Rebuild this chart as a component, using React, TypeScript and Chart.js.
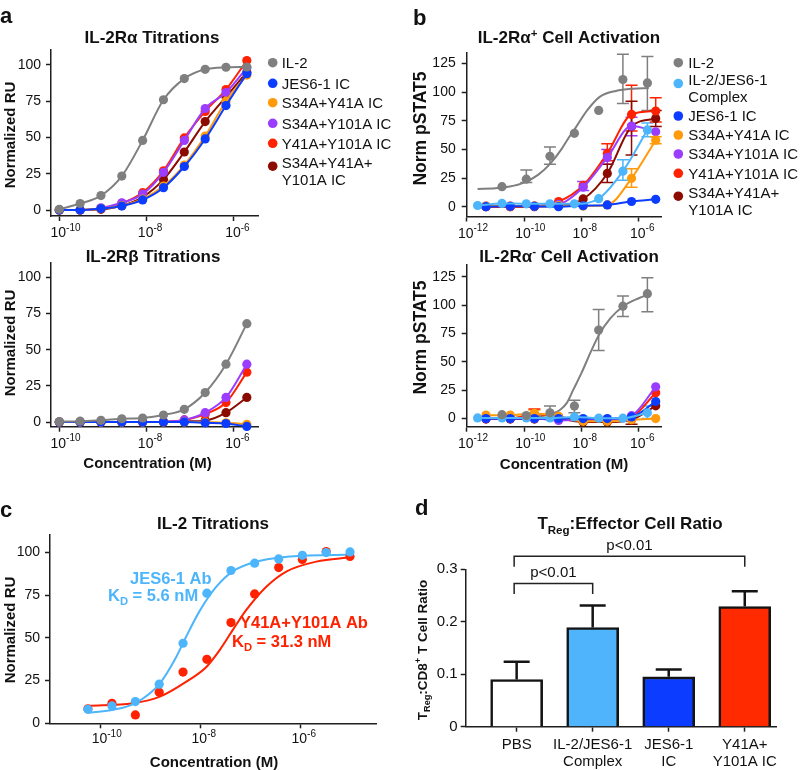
import React, { useEffect, useRef } from 'react';
import { Chart, registerables } from 'chart.js';

Chart.register(...registerables);

// ---------------- data ----------------
// Panel a: SPR titrations (3-fold dilutions)
const aConc = [1e-10, 3e-10, 9e-10, 2.7e-9, 8.1e-9, 2.43e-8, 7.29e-8, 2.19e-7, 6.56e-7, 1.97e-6];
const aRaIL2 = [0.5, 4.5, 10, 23.4, 48, 76, 90.6, 97, 98.4, 98.6];
const aRaJES = [0, 0, 1, 2.8, 7, 15.4, 30, 49, 72, 94];
const aRaS34Y41 = [0, 0, 1, 3, 7.5, 16.5, 31, 51, 75, 93];
const aRaS34Y101 = [0, 0, 1.5, 5, 11, 26, 48, 70, 81, 98];
const aRaY41Y101 = [0, 0, 1, 4.6, 12, 27, 49.7, 68, 83, 103];
const aRaTriple = [0, 0, 0.5, 3, 9, 21, 40, 61, 78, 95];
const aRbIL2 = [0.3, 0.6, 1.2, 2.3, 2.8, 4.9, 8.8, 20.4, 40, 68];
const aRbJES = [0, 0, 0, 0, 0, 0, 0, -0.5, -1, -3];
const aRbS34Y41 = [0, 0, 0, 0, 0, 0, 0, 0, -0.5, -1.5];
const aRbS34Y101 = [0, 0, 0, 0, 0, 0.3, 1.5, 6.5, 17, 40];
const aRbY41Y101 = [0, 0, 0, 0, 0, 0.3, 1.5, 5.5, 13.5, 34.5];
const aRbTriple = [0, 0, 0, 0, 0, 0, 0.5, 1, 6.5, 17];
const aLegend = ['IL-2', 'JES6-1 IC', 'S34A+Y41A IC', 'S34A+Y101A IC', 'Y41A+Y101A IC', 'S34A+Y41A+\nY101A IC'];
const aTickExps = [-10, -8, -6];

// Panel b: pSTAT5 cell activation
const bConcIC = [4.7e-12, 3.3e-11, 2.3e-10, 1.6e-9, 1.15e-8, 8.0e-8, 5.6e-7, 3.9e-6];
const bConcIL2 = [2.4e-12, 1.7e-11, 1.2e-10, 8.0e-10, 5.7e-9, 4.0e-8, 2.8e-7, 2.0e-6];
const bPosIL2 = [null, 17.4, 24, 44, 64, 84, 111, 108];
const bPosCx = [1, 2.8, 2.5, 2.5, 2.5, 7, 31, 67];
const bPosJES = [0, 0.3, 0.3, 0, 0.8, 1.5, 4.5, 6.4];
const bPosS34Y41 = [0.5, 0.5, 0.5, 1, 0.5, 1.5, 24.7, 58];
const bPosS34Y101 = [0.5, 0.5, 0.5, 2, 17, 43, 70.3, 65.4];
const bPosY41Y101 = [0, 0, 0.5, 4.4, 18.5, 46.5, 80.5, 83.5];
const bPosTriple = [0, 0, 0, 1, 6.7, 29, 70, 77];
const bPosIL2FitExp = [-11.62, -11, -10.5, -10, -9.5, -9.07, -8.7, -8.5, -8.2, -7.8, -7.35, -6.8, -6.2, -5.65];
const bPosIL2FitVal = [15.5, 16, 17.5, 21, 28, 38, 50, 58, 69, 84, 96, 101, 103, 103.5];
const bPosErrIL2 = [[2, 21, 32], [3, 37, 52], [6, 90, 133], [7, 84, 131]];
const bPosErrCx = [[6, 23, 41], [7, 61, 73]];
const bPosErrS34Y41 = [[6, 17, 33], [7, 55, 61]];
const bPosErrS34Y101 = [[4, 14, 22], [5, 37, 50], [6, 62, 78]];
const bPosErrY41Y101 = [[5, 40, 55], [6, 66, 106], [7, 74, 95]];
const bPosErrTriple = [[5, 21, 37], [6, 45, 92], [7, 70, 84]];

const bNegIL2 = [null, 3.4, 2.6, 5, 11, 78, 99, 110];
const bNegCx = [0.5, 0.5, 0.5, 0.5, 1.4, 0.3, 0.3, 5];
const bNegJES = [0, 0, 0, 0, 0, 0, 1.4, 15];
const bNegS34Y41 = [3, 3, 4.5, 2, -2.5, -2.5, -1, 0];
const bNegS34Y101 = [0, 0, 0, -1.7, -1, -1, 2.5, 27.9];
const bNegY41Y101 = [0, 0, 4, 1.5, -2, -1, 1.5, 22.7];
const bNegTriple = [-0.5, -0.5, -0.5, -0.5, -3, -3, -1, 11.2];
const bNegIL2FitExp = [-11.62, -10, -9.3, -9.0, -8.75, -8.5, -8.29, -8.0, -7.65, -7.38, -7.0, -6.54, -6.0, -5.68];
const bNegIL2FitVal = [0.5, 1, 2.5, 4.5, 7.5, 14, 25, 40, 60, 74, 88, 99, 106, 109];
const bNegErrIL2 = [[3, 0, 11], [4, 5, 16], [5, 60, 96], [6, 90, 108], [7, 94, 124]];
const bNegErrCx = [[7, 0, 11]];
const bNegErrY41Y101 = [[2, 0.5, 8.3]];
const bNegErrS34Y41 = [[2, 1.5, 7.5]];
const bNegErrTriple = [[6, -5, 1]];
const bLegend = ['IL-2', 'IL-2/JES6-1\nComplex', 'JES6-1 IC', 'S34A+Y41A IC', 'S34A+Y101A IC', 'Y41A+Y101A IC', 'S34A+Y41A+\nY101A IC'];
const bTickExps = [-12, -10, -8, -6];

// Panel c: IL-2 titrations on antibodies
const cConc = [5.6e-11, 1.7e-10, 5.0e-10, 1.5e-9, 4.5e-9, 1.35e-8, 4.1e-8, 1.22e-7, 3.7e-7, 1.1e-6, 3.3e-6, 9.9e-6];
const cJES = [8.2, 10.2, 12.7, 22.9, 46.9, 76.2, 89.5, 93.8, 96.3, 98.4, 100, 100.4];
const cY41Y101 = [8.5, 11.7, 4.9, 18.2, 30, 37.5, 59, 75.8, 91.2, 96, 100.6, 97.7];
const cJESFitExp = [-10.25, -9.77, -9.29, -8.81, -8.48, -8.28, -8.01, -7.68, -7.35, -6.88, -6.35, -5.35, -4.98];
const cJESFitVal = [6.2, 7.8, 12, 23.4, 39, 51, 66, 80, 89, 94.7, 97.3, 98.6, 98.8];
const cY41FitExp = [-10.25, -9.35, -8.81, -8.28, -7.88, -7.61, -7.35, -7.08, -6.68, -6.28, -5.68, -4.98];
const cY41FitVal = [10.2, 11.7, 15.6, 24.4, 33, 43, 54.7, 66.4, 80, 88.9, 94.7, 97.3];
const cTickExps = [-10, -8, -6];

// Panel d: Treg:effector ratio
const dGroups = [['PBS'], ['IL-2/JES6-1', 'Complex'], ['JES6-1', 'IC'], ['Y41A+', 'Y101A IC']];
const dMean = [0.09, 0.189, 0.095, 0.229];
const dUpper = [0.124, 0.231, 0.109, 0.258];
const dSig = [[0, 1, 'p<0.01'], [0, 3, 'p<0.01']];

// ---------------- styles ----------------
const FONT = '"Liberation Sans", Arial, Helvetica, sans-serif';
const INK = '#111111';
const AXIS = '#1e1e1e';
const W = 800;
const H = 770;
const GRAY = '#7f7f7f';
const BLUE = '#0b3cff';
const ORANGE = '#ff9a0a';
const PURPLE = '#9b3dff';
const RED = '#ff2200';
const DARKRED = '#8c0b00';
const LIGHTBLUE = '#4db5fb';
const aColors = [GRAY, BLUE, ORANGE, PURPLE, RED, DARKRED];
const bColors = [GRAY, LIGHTBLUE, BLUE, ORANGE, PURPLE, RED, DARKRED];
const dColors = ['#ffffff', '#4fb4fc', '#0b3cff', '#ff2a00'];

type Seg = [string, string?];

const fnt = (size: number, bold = false) => `${bold ? 'bold ' : ''}${size}px ${FONT}`;

function drawSegs(ctx: any, input: string | Seg[], x: number, yMid: number, size: number, o: any = {}) {
  const segs: Seg[] = typeof input === 'string' ? [[input]] : input;
  const bold = !!o.bold;
  const parts = segs.map(([t, k]) => {
    const s = k ? size * 0.68 : size;
    ctx.font = fnt(s, bold);
    return { t, k, s, w: ctx.measureText(t).width };
  });
  const total = parts.reduce((a, p) => a + p.w, 0);
  let cx = o.align === 'center' ? x - total / 2 : o.align === 'right' ? x - total : x;
  const base = yMid + size * 0.36;
  ctx.fillStyle = o.color ?? INK;
  ctx.textAlign = 'left';
  ctx.textBaseline = 'alphabetic';
  for (const p of parts) {
    ctx.font = fnt(p.s, bold);
    const dy = p.k === 'sup' ? -size * 0.4 : p.k === 'sub' ? size * 0.24 : 0;
    ctx.fillText(p.t, cx, base + dy);
    cx += p.w;
  }
}

function drawSegsRot(ctx: any, input: string | Seg[], cx: number, cy: number, size: number, o: any = {}) {
  ctx.save();
  ctx.translate(cx, cy);
  ctx.rotate(-Math.PI / 2);
  drawSegs(ctx, input, 0, 0, size, { ...o, align: 'center' });
  ctx.restore();
}

function letter(ctx: any, ch: string, x: number, baseline: number) {
  ctx.font = fnt(22, true);
  ctx.fillStyle = INK;
  ctx.textAlign = 'left';
  ctx.textBaseline = 'alphabetic';
  ctx.fillText(ch, x, baseline);
}

function drawLegend(ctx: any, labels: string[], colors: string[], mx: number, tx: number, rows: number[]) {
  labels.forEach((lab, i) => {
    const lines = lab.split('\n');
    const y = rows[i];
    ctx.beginPath();
    ctx.fillStyle = colors[i];
    ctx.arc(mx, y + (lines.length > 1 ? 3.5 : 0), 4.8, 0, Math.PI * 2);
    ctx.fill();
    lines.forEach((ln, j) => drawSegs(ctx, ln, tx, y + j * 16.5, 15));
  });
}

function logTickLabels(ctx: any, chart: any, exps: number[], dy = 16) {
  const xs = chart.scales.x;
  const yb = chart.chartArea.bottom + dy;
  ctx.font = fnt(14);
  const w10 = ctx.measureText('10').width;
  for (const e of exps) {
    const px = xs.getPixelForValue(Math.pow(10, e));
    drawSegs(ctx, '10', px - w10 / 2 - 1, yb, 14);
    drawSegs(ctx, String(e), px + w10 / 2 - 1, yb - 5, 10);
  }
}

function overlay(id: string, draw: (chart: any, ctx: any) => void) {
  return {
    id,
    afterDraw(chart: any) {
      const ctx = chart.ctx;
      ctx.save();
      draw(chart, ctx);
      ctx.restore();
    },
  };
}

function errorBars(id: string, groups: { xs: number[]; items: number[][]; color: string }[]) {
  return {
    id,
    beforeDatasetsDraw(chart: any) {
      const { ctx } = chart;
      const x = chart.scales.x;
      const y = chart.scales.y;
      ctx.save();
      ctx.lineWidth = 1.5;
      for (const g of groups) {
        ctx.strokeStyle = g.color;
        for (const [i, lo, hi] of g.items) {
          const px = x.getPixelForValue(g.xs[i]);
          const y0 = y.getPixelForValue(lo);
          const y1 = y.getPixelForValue(hi);
          ctx.beginPath();
          ctx.moveTo(px, y0);
          ctx.lineTo(px, y1);
          ctx.moveTo(px - 6, y0);
          ctx.lineTo(px + 6, y0);
          ctx.moveTo(px - 6, y1);
          ctx.lineTo(px + 6, y1);
          ctx.stroke();
        }
      }
      ctx.restore();
    },
  };
}

const gridOpts = { display: true, drawOnChartArea: false, drawTicks: true, tickLength: 5, tickWidth: 1.5, tickColor: AXIS };
const borderOpts = { display: true, color: AXIS, width: 1.5 };
const YW = 45;
const XH = 10;

function yLin(min: number, max: number, ticks: number[], o: any = {}) {
  return {
    type: 'linear',
    min,
    max,
    afterBuildTicks: (s: any) => {
      s.ticks = ticks.map((v) => ({ value: v }));
    },
    afterFit: (s: any) => {
      s.width = YW;
    },
    grid: gridOpts,
    border: borderOpts,
    ticks: {
      color: INK,
      font: { family: FONT, size: o.size ?? 14 },
      padding: o.pad ?? 5,
      autoSkip: false,
      callback: o.fmt ?? ((v: any) => String(v)),
    },
  };
}

function xLog(minE: number, maxE: number, tickE: number[]) {
  return {
    type: 'logarithmic',
    min: Math.pow(10, minE),
    max: Math.pow(10, maxE),
    afterBuildTicks: (s: any) => {
      s.ticks = tickE.map((e) => ({ value: Math.pow(10, e) }));
    },
    afterFit: (s: any) => {
      s.height = XH;
    },
    grid: gridOpts,
    border: borderOpts,
    ticks: { display: false },
  };
}

function frame(l: number, t: number, r: number, b: number, hx = XH) {
  return { padding: { left: l - YW, top: t, right: W - r, bottom: H - b - hx } };
}

function baseOptions(layout: any, scales: any) {
  return {
    responsive: false,
    animation: false,
    devicePixelRatio: 1,
    events: [],
    layout,
    scales,
    plugins: { legend: { display: false }, tooltip: { enabled: false }, title: { display: false } },
  };
}

function series(xs: number[], ys: (number | null)[], color: string, line = true) {
  return {
    data: xs.map((x, i) => ({ x, y: ys[i] })),
    showLine: line,
    borderColor: color,
    backgroundColor: color,
    pointBackgroundColor: color,
    pointBorderColor: color,
    pointBorderWidth: 0,
    pointRadius: 4.6,
    borderWidth: 2,
    cubicInterpolationMode: 'monotone',
    spanGaps: true,
    clip: false,
    order: 0,
  };
}

function fitCurve(exps: number[], vals: number[], color: string) {
  return {
    data: exps.map((e, i) => ({ x: Math.pow(10, e), y: vals[i] })),
    showLine: true,
    borderColor: color,
    backgroundColor: color,
    pointRadius: 0,
    borderWidth: 2,
    cubicInterpolationMode: 'monotone',
    clip: false,
    order: 10,
  };
}

const pct = [0, 25, 50, 75, 100];
const pct125 = [0, 25, 50, 75, 100, 125];

// ---------------- charts ----------------
const makeATop = () => ({
  type: 'scatter',
  data: {
    datasets: [aRaIL2, aRaJES, aRaS34Y41, aRaS34Y101, aRaY41Y101, aRaTriple].map((ys, i) => series(aConc, ys, aColors[i])),
  },
  options: baseOptions(frame(51, 50, 258, 216), { x: xLog(-10.19, -5.45, aTickExps), y: yLin(-4.1, 110.3, pct) }),
  plugins: [
    overlay('aTop', (chart, ctx) => {
      letter(ctx, 'a', 0, 23);
      drawSegs(ctx, 'IL-2Rα Titrations', 152, 37, 17, { bold: true, align: 'center' });
      drawSegsRot(ctx, 'Normalized RU', 9.5, 135, 15, { bold: true });
      drawLegend(ctx, aLegend, aColors, 272.7, 281.7, [62.7, 83.3, 102.7, 123.3, 143.3, 162.7]);
      logTickLabels(ctx, chart, aTickExps);
    }),
  ],
});

const makeABottom = () => ({
  type: 'scatter',
  data: {
    datasets: [aRbIL2, aRbJES, aRbS34Y41, aRbS34Y101, aRbY41Y101, aRbTriple].map((ys, i) => series(aConc, ys, aColors[i])),
  },
  options: baseOptions(frame(51, 263, 258, 426.7), { x: xLog(-10.19, -5.45, aTickExps), y: yLin(-3.2, 109.9, pct) }),
  plugins: [
    overlay('aBottom', (chart, ctx) => {
      drawSegs(ctx, 'IL-2Rβ Titrations', 153, 256, 17, { bold: true, align: 'center' });
      drawSegsRot(ctx, 'Normalized RU', 9.5, 343, 15, { bold: true });
      logTickLabels(ctx, chart, aTickExps);
      drawSegs(ctx, 'Concentration (M)', 147.5, 463, 15, { bold: true, align: 'center' });
    }),
  ],
});

const makeBTop = () => ({
  type: 'scatter',
  data: {
    datasets: [
      series(bConcIL2, bPosIL2, GRAY, false),
      series(bConcIL2, bPosCx, LIGHTBLUE),
      series(bConcIC, bPosJES, BLUE),
      series(bConcIC, bPosS34Y41, ORANGE),
      series(bConcIC, bPosS34Y101, PURPLE),
      series(bConcIC, bPosY41Y101, RED),
      series(bConcIC, bPosTriple, DARKRED),
      fitCurve(bPosIL2FitExp, bPosIL2FitVal, GRAY),
    ],
  },
  options: baseOptions(frame(466.7, 52.7, 661.7, 216.5), { x: xLog(-12, -5.2, bTickExps), y: yLin(-8.6, 134.4, pct125, { pad: 6 }) }),
  plugins: [
    errorBars('bTopErr', [
      { xs: bConcIL2, items: bPosErrIL2, color: GRAY },
      { xs: bConcIL2, items: bPosErrCx, color: LIGHTBLUE },
      { xs: bConcIC, items: bPosErrS34Y41, color: ORANGE },
      { xs: bConcIC, items: bPosErrS34Y101, color: PURPLE },
      { xs: bConcIC, items: bPosErrY41Y101, color: RED },
      { xs: bConcIC, items: bPosErrTriple, color: DARKRED },
    ]),
    overlay('bTop', (chart, ctx) => {
      letter(ctx, 'b', 413, 25);
      drawSegs(ctx, [['IL-2Rα'], ['+', 'sup'], [' Cell Activation']], 569, 37.3, 17, { bold: true, align: 'center' });
      drawSegsRot(ctx, 'Norm pSTAT5', 420, 128.5, 17.5, { bold: true });
      drawLegend(ctx, bLegend, bColors, 678.3, 688.3, [62.7, 80, 116, 135, 154, 173.3, 192.7]);
      logTickLabels(ctx, chart, bTickExps);
    }),
  ],
});

const makeBBottom = () => ({
  type: 'scatter',
  data: {
    datasets: [
      series(bConcIL2, bNegIL2, GRAY, false),
      series(bConcIL2, bNegCx, LIGHTBLUE),
      series(bConcIC, bNegJES, BLUE),
      series(bConcIC, bNegS34Y41, ORANGE),
      series(bConcIC, bNegS34Y101, PURPLE),
      series(bConcIC, bNegY41Y101, RED),
      series(bConcIC, bNegTriple, DARKRED),
      fitCurve(bNegIL2FitExp, bNegIL2FitVal, GRAY),
    ],
  },
  options: baseOptions(frame(466.7, 265, 661.7, 426.7), { x: xLog(-12, -5.2, bTickExps), y: yLin(-7.2, 135.3, pct125, { pad: 6 }) }),
  plugins: [
    errorBars('bBotErr', [
      { xs: bConcIL2, items: bNegErrIL2, color: GRAY },
      { xs: bConcIL2, items: bNegErrCx, color: LIGHTBLUE },
      { xs: bConcIC, items: bNegErrS34Y41, color: ORANGE },
      { xs: bConcIC, items: bNegErrY41Y101, color: RED },
      { xs: bConcIC, items: bNegErrTriple, color: DARKRED },
    ]),
    overlay('bBottom', (chart, ctx) => {
      drawSegs(ctx, [['IL-2Rα'], ['-', 'sup'], [' Cell Activation']], 569, 256, 17, { bold: true, align: 'center' });
      drawSegsRot(ctx, 'Norm pSTAT5', 420, 337.5, 17.5, { bold: true });
      logTickLabels(ctx, chart, bTickExps);
      drawSegs(ctx, 'Concentration (M)', 564, 463.3, 15, { bold: true, align: 'center' });
    }),
  ],
});

const makeC = () => ({
  type: 'scatter',
  data: {
    datasets: [
      series(cConc, cJES, LIGHTBLUE, false),
      series(cConc, cY41Y101, RED, false),
      fitCurve(cJESFitExp, cJESFitVal, LIGHTBLUE),
      fitCurve(cY41FitExp, cY41FitVal, RED),
    ],
  },
  options: baseOptions(frame(50, 535, 376.7, 723.3), { x: xLog(-11.01, -4.47, cTickExps), y: yLin(0, 110.3, pct) }),
  plugins: [
    overlay('c', (chart, ctx) => {
      letter(ctx, 'c', 0, 516.7);
      drawSegs(ctx, 'IL-2 Titrations', 213, 523.3, 17, { bold: true, align: 'center' });
      drawSegsRot(ctx, 'Normalized RU', 9.5, 630, 15, { bold: true });
      logTickLabels(ctx, chart, cTickExps, 15);
      drawSegs(ctx, 'Concentration (M)', 214, 761.7, 15, { bold: true, align: 'center' });
      drawSegs(ctx, 'JES6-1 Ab', 130, 578, 16.5, { bold: true, color: LIGHTBLUE });
      drawSegs(ctx, [['K'], ['D', 'sub'], [' = 5.6 nM']], 108, 595.5, 16.5, { bold: true, color: LIGHTBLUE });
      drawSegs(ctx, 'Y41A+Y101A Ab', 240, 622, 16.5, { bold: true, color: RED });
      drawSegs(ctx, [['K'], ['D', 'sub'], [' = 31.3 nM']], 232, 641, 16.5, { bold: true, color: RED });
    }),
  ],
});

const D_XH = 43;

const makeD = () => ({
  type: 'bar',
  data: {
    datasets: [
      {
        data: dMean.map((v, i) => ({ x: i, y: v })),
        backgroundColor: dColors,
        borderColor: '#141414',
        borderWidth: 2.6,
        borderSkipped: 'start',
        barThickness: 52,
      },
    ],
  },
  options: baseOptions(frame(465.7, 569.3, 776.7, 726.7, D_XH), {
    x: {
      type: 'linear',
      min: -0.67,
      max: 3.42,
      offset: false,
      afterBuildTicks: (s: any) => {
        s.ticks = dGroups.map((_, i) => ({ value: i }));
      },
      afterFit: (s: any) => {
        s.height = D_XH;
      },
      grid: { ...gridOpts, offset: false },
      border: borderOpts,
      ticks: {
        color: INK,
        font: { family: FONT, size: 15, lineHeight: 1.1 },
        padding: 5,
        autoSkip: false,
        maxRotation: 0,
        minRotation: 0,
        callback: (v: any) => dGroups[Math.round(v)] ?? '',
      },
    },
    y: yLin(0, 0.3, [0, 0.1, 0.2, 0.3], { size: 15, pad: 3, fmt: (v: any) => (v === 0 ? '0' : Number(v).toFixed(1)) }),
  }),
  plugins: [
    overlay('d', (chart, ctx) => {
      const x = chart.scales.x;
      const y = chart.scales.y;
      letter(ctx, 'd', 415, 515);
      drawSegs(ctx, [['T'], ['Reg', 'sub'], [':Effector Cell Ratio']], 630, 523.3, 17, { bold: true, align: 'center' });
      drawSegsRot(ctx, [['T'], ['Reg', 'sub'], [':CD8'], ['+', 'sup'], [' T Cell Ratio']], 421.7, 650, 13.5, { bold: true });
      // error bars (upper only)
      ctx.strokeStyle = '#141414';
      ctx.lineWidth = 2.5;
      dMean.forEach((m, i) => {
        const px = x.getPixelForValue(i);
        const y0 = y.getPixelForValue(m);
        const y1 = y.getPixelForValue(dUpper[i]);
        ctx.beginPath();
        ctx.moveTo(px, y0);
        ctx.lineTo(px, y1);
        ctx.moveTo(px - 13, y1);
        ctx.lineTo(px + 13, y1);
        ctx.stroke();
      });
      // significance brackets
      const levels = [[0.273, 0.253], [0.325, 0.305]];
      ctx.lineWidth = 1.5;
      dSig.forEach((s: any, k) => {
        const xa = x.getPixelForValue(s[0]) - 2.5;
        const xb = x.getPixelForValue(s[1]);
        const yt = y.getPixelForValue(levels[k][0]);
        const yl = y.getPixelForValue(levels[k][1]);
        ctx.strokeStyle = '#222';
        ctx.beginPath();
        ctx.moveTo(xa, yl);
        ctx.lineTo(xa, yt);
        ctx.lineTo(xb, yt);
        ctx.lineTo(xb, yl);
        ctx.stroke();
        drawSegs(ctx, s[2], (xa + xb) / 2, yt - 12, 15, { align: 'center' });
      });
    }),
  ],
});

const builders = [makeATop, makeABottom, makeBTop, makeBBottom, makeC, makeD];

function ChartCanvas({ make }: { make: () => any }) {
  const ref = useRef<HTMLCanvasElement>(null);
  useEffect(() => {
    const chart = new Chart(ref.current as HTMLCanvasElement, make() as any);
    return () => chart.destroy();
  }, [make]);
  return (
    <canvas
      ref={ref}
      width={W}
      height={H}
      style={{ position: 'absolute', left: 0, top: 0, width: W, height: H }}
    />
  );
}

export default function App() {
  return (
    <div style={{ position: 'absolute', left: 0, top: 0, width: W, height: H, background: '#ffffff', overflow: 'hidden' }}>
      {builders.map((b, i) => (
        <ChartCanvas key={i} make={b} />
      ))}
    </div>
  );
}
